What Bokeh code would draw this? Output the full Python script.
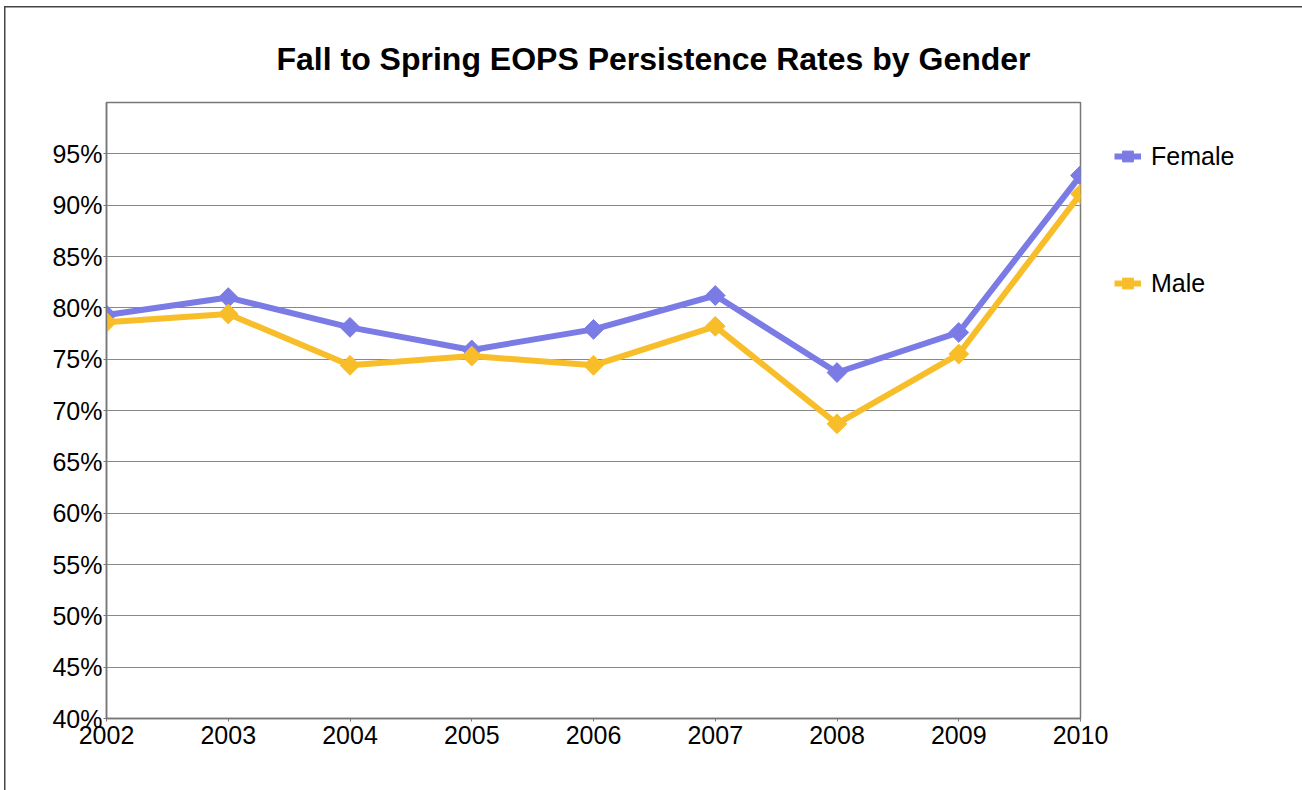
from bokeh.plotting import figure
from bokeh.models import Range1d, FixedTicker, PrintfTickFormatter, Title, Legend, LegendItem
from bokeh.embed import file_html
from bokeh.resources import INLINE
import numpy as np

years = [2002, 2003, 2004, 2005, 2006, 2007, 2008, 2009, 2010]
female = [79.3, 81.0, 78.1, 75.9, 77.9, 81.2, 73.7, 77.6, 92.9]
male = [78.6, 79.4, 74.4, 75.3, 74.4, 78.2, 68.7, 75.5, 91.1]
y_ticks = [40, 45, 50, 55, 60, 65, 70, 75, 80, 85, 90, 95]
title_text = "Fall to Spring EOPS Persistence Rates by Gender"

FEMALE_C = "#7B7BE5"
MALE_C = "#F8BE2A"
FONT = "Liberation Sans"

shadow = ("inset 4px 6px 0 0 white, inset -4px 0 0 0 white, "
          "inset 5.5px 7.5px 0 0 #444, inset -5.5px 0 0 0 #444")

p = figure(frame_width=974, frame_height=616, output_backend="svg", toolbar_location=None,
           x_range=Range1d(2002, 2010), y_range=Range1d(40, 100),
           min_border_left=106, min_border_right=222, min_border_top=102, min_border_bottom=72,
           styles={"background": "white", "box-shadow": shadow})

p.title = Title(text=title_text, align="left", offset=170, standoff=52,
                vertical_align="bottom",
                text_font=FONT, text_font_size="32px", text_font_style="bold",
                text_color="black")

p.outline_line_color = "#777777"
p.outline_line_width = 1.5
p.background_fill_color = "white"
p.border_fill_color = None

p.xgrid.visible = False
p.ygrid.ticker = FixedTicker(ticks=y_ticks)
p.ygrid.grid_line_color = "#888888"
p.ygrid.grid_line_width = 1

p.xaxis.ticker = FixedTicker(ticks=years)
p.yaxis.ticker = FixedTicker(ticks=y_ticks)
p.yaxis.formatter = PrintfTickFormatter(format="%d%%")
for ax in (p.xaxis, p.yaxis):
    ax.axis_line_color = "#777777"
    ax.axis_line_width = 1.5
    ax.major_tick_line_color = "#777777"
    ax.major_tick_in = 0
    ax.major_tick_out = 3
    ax.minor_tick_line_color = None
    ax.major_label_text_font = FONT
    ax.major_label_text_font_size = "25px"
    ax.major_label_text_color = "black"
p.xaxis.major_label_standoff = 4
p.yaxis.major_label_standoff = 1

lf = p.line(years, female, line_color=FEMALE_C, line_width=6)
sf = p.scatter(years, female, marker="square", angle=np.pi / 4, size=14,
               fill_color=FEMALE_C, line_color=FEMALE_C)
lm = p.line(years, male, line_color=MALE_C, line_width=6)
sm = p.scatter(years, male, marker="square", angle=np.pi / 4, size=14,
               fill_color=MALE_C, line_color=MALE_C)

legend = Legend(items=[LegendItem(label="Female", renderers=[lf, sf]),
                       LegendItem(label="Male", renderers=[lm, sm])],
                location="top_left", orientation="vertical",
                glyph_width=27, glyph_height=40, label_height=40,
                label_standoff=10, spacing=87, padding=0, margin=34,
                label_text_font=FONT, label_text_font_size="25px",
                label_text_color="black",
                background_fill_alpha=0, border_line_color=None)
p.add_layout(legend, "right")

open("out.html", "w").write(file_html(p, INLINE))
